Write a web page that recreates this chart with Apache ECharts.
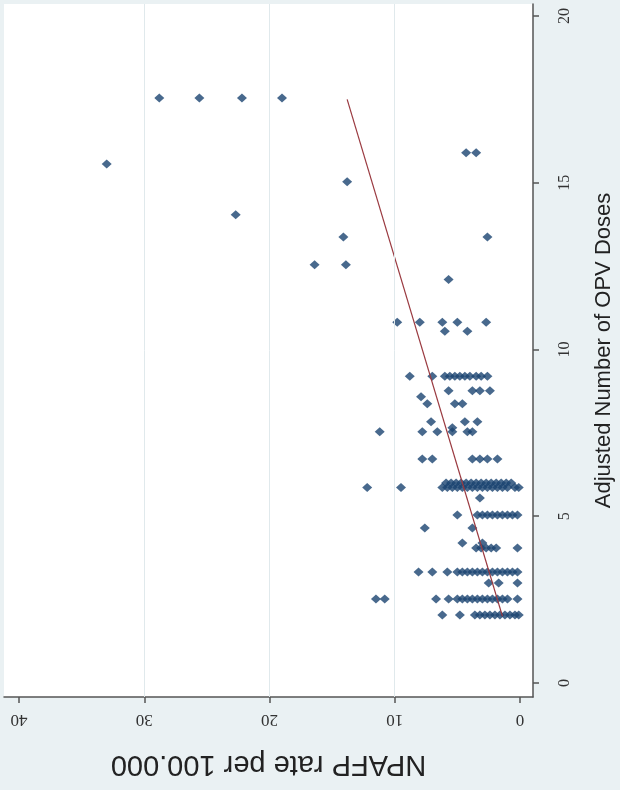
<!DOCTYPE html>
<html>
<head>
<meta charset="utf-8">
<script src="https://cdn.jsdelivr.net/npm/echarts@6/dist/echarts.min.js"></script>
<style>
  html, body { margin: 0; padding: 0; background: #eaf1f3; }
  #chart { width: 620px; height: 790px; }
</style>
</head>
<body>
<div id="chart"></div>
<script>
  // each row: one dose level, with the NPAFP rates
  const rowDoses = [17.54, 15.9, 15.56, 15.03, 14.04, 13.37, 12.54, 12.1, 10.82, 10.55,
    9.2, 8.76, 8.58, 8.37, 7.83, 7.65, 7.53, 6.72, 6.0, 5.86, 5.55, 5.04, 4.65,
    4.2, 4.05, 3.33, 3.0, 2.52, 2.04]
  const rowRates = [
    [28.8, 25.6, 22.2, 19.0],
    [4.3, 3.5],
    [33.0],
    [13.8],
    [22.7],
    [14.1, 2.6],
    [16.4, 13.9],
    [5.7],
    [9.8, 8.0, 6.2, 5.0, 2.7],
    [6.0, 4.2],
    [8.8, 7.0, 6.0, 5.6, 5.2, 4.8, 4.4, 4.0, 3.5, 3.1, 2.6],
    [5.7, 3.8, 3.2, 2.4],
    [7.9],
    [7.4, 5.2, 4.6],
    [7.1, 4.4, 3.4],
    [5.4],
    [11.2, 7.8, 6.6, 5.4, 4.2, 3.8],
    [7.8, 7.0, 3.8, 3.2, 2.6, 1.8],
    [5.9, 5.5, 5.1, 4.7, 4.3, 3.9, 3.5, 3.1, 2.7, 2.3, 1.9, 1.5, 1.1, 0.7],
    [12.2, 9.5, 6.2, 5.8, 5.4, 5.0, 4.6, 4.2, 3.8, 3.4, 3.0, 2.6, 2.2, 1.8, 1.4, 1.0, 0.4, 0.1],
    [3.2],
    [5.0, 3.4, 3.0, 2.6, 2.2, 1.8, 1.4, 1.0, 0.6, 0.2],
    [7.6, 3.8],
    [4.6, 3.0],
    [3.5, 3.1, 2.7, 2.3, 1.9, 0.2],
    [8.1, 7.0, 5.8, 5.0, 4.6, 4.2, 3.8, 3.4, 3.0, 2.6, 2.2, 1.8, 1.4, 1.0, 0.6, 0.2],
    [2.5, 1.7, 0.2],
    [11.5, 10.8, 6.7, 5.7, 5.0, 4.6, 4.2, 3.8, 3.4, 3.0, 2.6, 2.2, 1.8, 1.4, 1.0, 0.2],
    [6.2, 4.8, 3.6, 3.2, 2.8, 2.4, 2.0, 1.6, 1.2, 0.8, 0.4, 0.1]
  ]
  // fitted line ends: [rate, doses]
  const fitStart = [1.4, 2.0]
  const fitEnd = [13.8, 17.5]
  const rateTicks = [0, 10, 20, 30, 40]
  const doseTicks = [0, 5, 10, 15, 20]
  const rateGrid = [10, 20, 30]

  const points = []
  rowDoses.forEach((d, i) => {
    rowRates[i].forEach(r => points.push([r, d]))
  })

  const chart = echarts.init(document.getElementById('chart'))
  chart.setOption({
    animation: false,
    backgroundColor: '#eaf1f3',
    grid: {
      left: 4,
      right: 87,
      top: 4,
      bottom: 93,
      outerBoundsMode: 'none',
      containLabel: false,
      show: true,
      backgroundColor: '#ffffff',
      borderWidth: 0
    },
    xAxis: {
      type: 'value',
      inverse: true,
      min: -1.04,
      max: 41.2,
      name: 'NPAFP rate per 100.000',
      nameLocation: 'middle',
      nameRotate: 180,
      nameGap: 52,
      nameTextStyle: { fontFamily: 'Liberation Sans', fontSize: 29, color: '#222' },
      axisLine: { onZero: false, lineStyle: { color: '#555', width: 1.5 } },
      axisTick: { customValues: rateTicks, length: 6, lineStyle: { color: '#555', width: 1.5 } },
      axisLabel: {
        customValues: rateTicks,
        rotate: 180,
        margin: 14,
        fontFamily: 'Liberation Serif',
        fontSize: 17,
        color: '#333'
      },
      splitLine: { show: false }
    },
    yAxis: {
      type: 'value',
      position: 'right',
      min: -0.42,
      max: 20.36,
      name: 'Adjusted Number of OPV Doses',
      nameLocation: 'middle',
      nameRotate: 90,
      nameGap: 60,
      nameTextStyle: { fontFamily: 'Liberation Sans', fontSize: 22, color: '#222' },
      axisLine: { show: true, onZero: false, lineStyle: { color: '#555', width: 1.5 } },
      axisTick: { show: true, customValues: doseTicks, length: 6, lineStyle: { color: '#555', width: 1.5 } },
      axisLabel: {
        customValues: doseTicks,
        rotate: 90,
        margin: 24,
        fontFamily: 'Liberation Serif',
        fontSize: 16,
        color: '#333'
      },
      splitLine: { show: false }
    },
    series: [
      {
        type: 'scatter',
        data: points,
        symbol: 'diamond',
        symbolSize: [10, 9],
        itemStyle: { color: '#1a4470' },
        markLine: {
          silent: true,
          symbol: 'none',
          label: { show: false },
          lineStyle: { color: '#e0e9ec', width: 1, type: 'solid' },
          data: rateGrid.map(v => ({ xAxis: v }))
        },
        z: 3
      },
      {
        type: 'line',
        data: [fitStart, fitEnd],
        symbol: 'none',
        lineStyle: { color: '#9a3a40', width: 1.2 },
        z: 4
      }
    ]
  })
</script>
</body>
</html>
